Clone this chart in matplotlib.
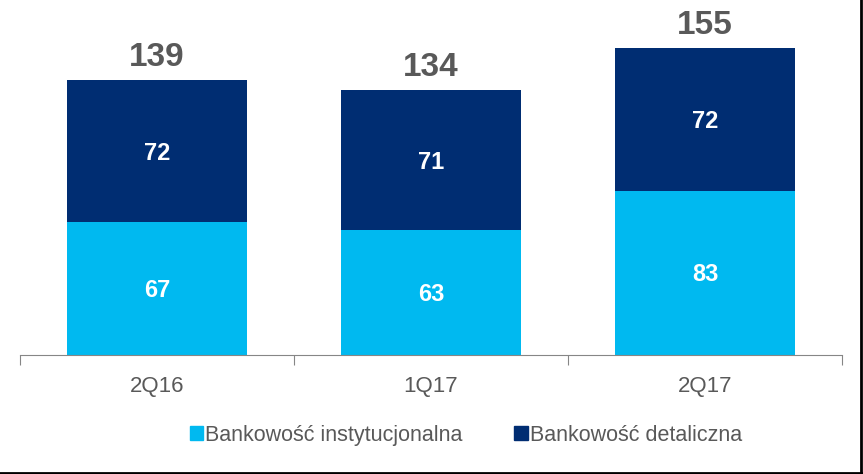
import matplotlib
matplotlib.use("Agg")
import matplotlib.pyplot as plt
from matplotlib.lines import Line2D
from matplotlib.patches import Patch

# data
quarters = ["2Q16", "1Q17", "2Q17"]
institutional = [67, 63, 83]
retail = [72, 71, 72]
totals = [139, 134, 155]

LIGHT = "#00B9F0"
DARK = "#002D72"
GREY = "#595959"

plt.rcParams['font.family'] = ['Liberation Sans', 'DejaVu Sans']

fig = plt.figure(figsize=(8.63, 4.74), dpi=100)
ax = fig.add_axes([20 / 863, 119 / 474, 822 / 863, 345 / 474])

PX = 345 / 174.4  # pixels per data unit

x = range(len(quarters))
ax.bar(x, institutional, width=0.66, color=LIGHT)
ax.bar(x, retail, width=0.66, bottom=institutional, color=DARK)

half_cap = 8.5 / PX
for i in x:
    ax.text(i, institutional[i] / 2 - half_cap, str(institutional[i]), ha="center",
            va="baseline", color="white", fontsize=17, fontweight="bold")
    ax.text(i, institutional[i] + retail[i] / 2 - half_cap, str(retail[i]), ha="center",
            va="baseline", color="white", fontsize=17, fontweight="bold")
    ax.text(i, totals[i] + 14 / PX, str(totals[i]), ha="center", va="baseline",
            color=GREY, fontsize=24, fontweight="bold")

ax.set_xlim(-0.5, 2.5)
ax.set_ylim(0, 174.4)
ax.set_yticks([])
for s in ["top", "right", "left"]:
    ax.spines[s].set_visible(False)
ax.spines["bottom"].set_color("#868686")
ax.set_xticks([-0.5, 0.5, 1.5, 2.5])
ax.set_xticklabels([])
ax.tick_params(axis="x", length=7, color="#868686", direction="out")
ax.set_xticks(list(x), minor=True)
ax.set_xticklabels(quarters, minor=True)
ax.tick_params(axis="x", which="minor", length=0, pad=15, labelsize=16, labelcolor=GREY)

handles = [Patch(color=LIGHT, label="Bankowość instytucjonalna"),
           Patch(color=DARK, label="Bankowość detaliczna")]
fig.legend(handles=handles, loc="center", bbox_to_anchor=(0.54, 0.082), ncol=2,
           frameon=False, fontsize=15.5, labelcolor=GREY, handlelength=0.62,
           handleheight=0.62, handletextpad=0.12, columnspacing=2.4)

# thin black frame on right and bottom edge
fig.add_artist(Line2D([0, 1], [0.002, 0.002], transform=fig.transFigure, color="black", lw=2))
fig.add_artist(Line2D([0.998, 0.998], [0, 1], transform=fig.transFigure, color="black", lw=2))

fig.savefig("out.png", dpi=100)
